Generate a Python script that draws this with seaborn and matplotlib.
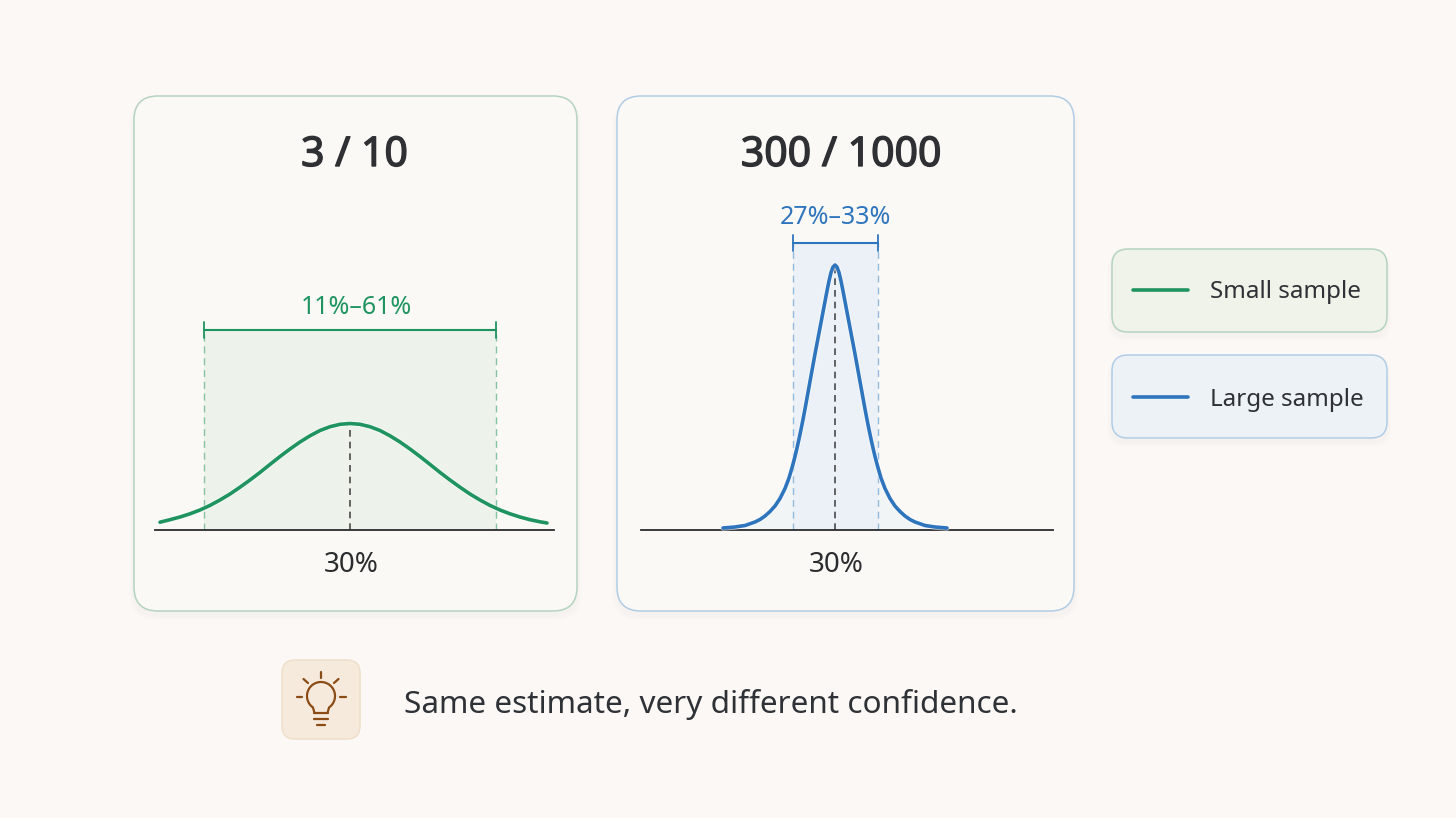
import numpy as np
import pandas as pd
import matplotlib
matplotlib.use("Agg")
import matplotlib.pyplot as plt
import matplotlib.patheffects as pe
from matplotlib.patches import FancyBboxPatch, Rectangle
import seaborn as sns

# ---- data (curve positions are offsets from the 30% estimate, heights are curve heights)
small_pos = [-190,-180,-170,-160,-150,-140,-130,-120,-110,-100,-90,-80,-70,-60,-50,-40,-30,-20,-10,0,
             10,20,30,40,50,60,70,80,90,100,110,120,130,140,150,160,170,180,190,197]
small_h = [7.8,10.3,13,16.2,20,24.6,30,36,42.8,50,57.6,65.6,73.5,81,88,94.2,99.5,103.3,105.7,106.5,
           105.7,103.3,99.5,94.2,88,81,73.5,65.6,57.6,50,42.8,36,30,24.6,20,16.2,13,10.3,8.2,7]
large_pos = [-112,-100,-90,-80,-75,-70,-65,-60,-55,-50,-46,-42.5,-40,-38,-36,-34,-32,-30,-28,-26,-24,-22,-20,-18,-16,-14,-12,-10,-8,-6,-4,-2,0,
             2,4,6,8,10,12,14,16,18,20,22,24,26,28,30,32,34,36,38,40,42.5,46,50,55,60,65,70,75,80,90,100,112]
large_h = [2,3,4.5,8,10.5,14,18.5,24,31.5,41.5,52,64,73.5,82,91,100.5,110.5,121,132,143,154,165,176,186.5,197,207.5,218,228.5,239,249,257.5,263,265,
           263,257.5,249,239,228.5,218,207.5,197,186.5,176,165,154,143,132,121,110.5,100.5,91,82,73.5,64,52,41.5,31.5,24,18.5,14,10.5,8,4.5,3,2]
titles = ["3 / 10", "300 / 1000"]
ci_labels = ["11%–61%", "27%–33%"]
ci_edges = [(-146, 146), (-42.5, 42.5)]
estimate_label = "30%"
legend_labels = ["Small sample", "Large sample"]
footer = "Same estimate, very different confidence."

BG = "#FBF8F5"
GREEN, BLUE = "#1F9460", "#2F75BD"
W, H = 1456, 818
FONT = ["Noto Sans", "DejaVu Sans"]

sns.set_theme(style="white")
plt.rcParams["font.family"] = FONT

fig = plt.figure(figsize=(W / 100, H / 100), dpi=100, facecolor=BG)
bg = fig.add_axes([0, 0, 1, 1])
bg.set_xlim(0, W); bg.set_ylim(H, 0); bg.axis("off")


def card(x0, y0, x1, y1, r, face, edge, lw=1.1, shadow=True):
    if shadow:
        for i, a in zip([9, 6, 3], [0.008, 0.010, 0.012]):
            bg.add_patch(FancyBboxPatch((x0 + r - i / 2, y0 + r + 4), x1 - x0 - 2 * r + i, y1 - y0 - 2 * r + i / 2,
                                        boxstyle=f"round,pad={r},rounding_size={r}", fc="#6A6A55", ec="none", alpha=a))
    bg.add_patch(FancyBboxPatch((x0 + r, y0 + r), x1 - x0 - 2 * r, y1 - y0 - 2 * r,
                                boxstyle=f"round,pad={r},rounding_size={r}", fc=face, ec=edge, lw=lw))


card(134, 96, 577, 611, 24, "#FAF9F5", "#B5D3BF")
card(617, 96, 1074, 611, 24, "#FBF9F6", "#B1CDE6")
card(1112, 249, 1387, 332, 16, "#EFF3EA", "#B5D3BF")
card(1112, 355, 1387, 438, 16, "#EDF2F7", "#B1CDE6")
card(282, 660, 360, 739, 13, "#F6EADD", "#EFDFCB", shadow=False)

bold = [pe.withStroke(linewidth=1.0, foreground="#2E3033")]
bg.text(354.5, 155, titles[0], ha="center", va="center", fontsize=29.5, color="#2E3033", path_effects=bold)
bg.text(841, 155, titles[1], ha="center", va="center", fontsize=29.5, color="#2E3033", path_effects=bold)

# legend
for y, c, lab in zip([290, 397], [GREEN, BLUE], legend_labels):
    bg.plot([1133, 1188], [y, y], color=c, lw=2.6, solid_capstyle="round")
    bg.text(1210, y + 2.5, lab, ha="left", va="center", fontsize=17.4, color="#2E3136")

# lightbulb icon
BR = "#8A4B14"
t = np.radians(np.linspace(-235, 55, 80))
cx, cy, rad = 321, 696, 14
bx = list(cx + rad * np.cos(t)); by = list(cy + rad * np.sin(t))
bg.plot([314.5] + bx + [327.5], [713] + by + [713], color=BR, lw=1.6)
bg.plot([314, 328], [713, 713], color=BR, lw=1.6, solid_capstyle="round")
bg.plot([314, 328], [719, 719], color=BR, lw=1.6, solid_capstyle="round")
bg.plot([317, 325], [724.5, 724.5], color=BR, lw=1.6, solid_capstyle="round")
for a, b, c, d in [(321, 672, 321, 678), (303.5, 679, 308, 683), (338.5, 679, 334, 683), (297, 697, 302, 697), (340, 697, 346, 697)]:
    bg.plot([a, c], [b, d], color=BR, lw=1.6, solid_capstyle="round")

bg.text(404, 704, footer, ha="left", va="center", fontsize=22.7, color="#2E3136")


def panel(px0, px1, pxc, pxtop, pos, h, color, band, edge_c, edges, bracket_y, label, label_x, label_y, under=None):
    base = 530
    ax = fig.add_axes([px0 / W, 1 - base / H, (px1 - px0) / W, (base - pxtop) / H])
    ax.patch.set_alpha(0)
    ax.set_xlim(px0 - pxc, px1 - pxc)
    ax.set_ylim(0, base - pxtop)
    top = base - bracket_y
    if under is not None:
        ax.fill_between(pos, 0, h, color=under, lw=0, zorder=1)
    ax.add_patch(Rectangle((edges[0], 0), edges[1] - edges[0], top - 1, fc=band, ec="none", zorder=1.2))
    for e in edges:
        ax.plot([e, e], [0, top], color=edge_c, lw=1.0, dashes=(5, 3.5), zorder=2)
        ax.plot([e, e], [top - 8, top + 8], color=color, lw=1.3, zorder=4)
    ax.plot(edges, [top, top], color=color, lw=1.5, zorder=4)
    peak = max(h)
    ax.plot([0, 0], [0, peak], color="#4A4A4A", lw=1.2, dashes=(4, 3), zorder=2.5)
    df = pd.DataFrame({"position": pos, "height": h})
    sns.lineplot(data=df, x="position", y="height", ax=ax, color=color, lw=2.6, errorbar=None, zorder=5,
                 clip_on=False, path_effects=[pe.Stroke(linewidth=3.9, foreground="#FFFFFF", alpha=0.6), pe.Normal()])
    ax.text(label_x, base - label_y, label, ha="center", va="center", fontsize=18, color=color)
    ax.set_xlabel(""); ax.set_ylabel("")
    ax.set_yticks([])
    ax.set_xticks([1.5]); ax.set_xticklabels([estimate_label], fontsize=20, color="#2A2C2E")
    ax.tick_params(axis="x", length=0, pad=15)
    for s in ["top", "left", "right"]:
        ax.spines[s].set_visible(False)
    ax.spines["bottom"].set_color("#2A2C2E")
    ax.spines["bottom"].set_linewidth(1.3)
    return ax


panel(155, 554, 350, 290, small_pos, small_h, GREEN, "#EDF2EA", "#86C3A2", ci_edges[0], 330, ci_labels[0], 6, 308)
panel(641, 1053, 835, 200, large_pos, large_h, BLUE, "#EBF1F6", "#93B9DC", ci_edges[1], 243, ci_labels[1], 0, 217,
      under="#F2F5F6")

fig.savefig("out.png", dpi=100, facecolor=BG)
